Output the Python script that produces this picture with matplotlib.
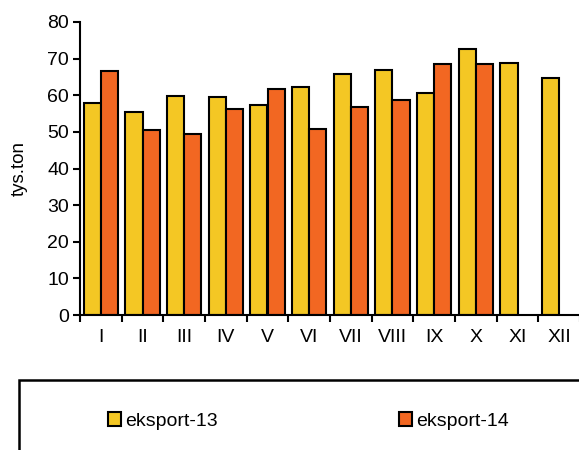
import numpy as np
import matplotlib
matplotlib.use("Agg")
import matplotlib.pyplot as plt
from matplotlib.patches import Rectangle

plt.rcParams['font.family'] = ['Liberation Sans', 'DejaVu Sans']

months = ["I", "II", "III", "IV", "V", "VI", "VII", "VIII", "IX", "X", "XI", "XII"]
eksport_13 = [58.0, 55.3, 59.7, 59.4, 57.3, 62.2, 65.8, 66.9, 60.7, 72.5, 68.8, 64.6]
eksport_14 = [66.6, 50.5, 49.5, 56.2, 61.6, 50.9, 56.9, 58.6, 68.4, 68.6, np.nan, np.nan]
labels = ["eksport-13", "eksport-14"]
yticks = [0, 10, 20, 30, 40, 50, 60, 70, 80]

W, H = 579, 450
fig = plt.figure(figsize=(W / 100, H / 100), dpi=100)
ax = fig.add_axes([80 / W, 1 - 315 / H, 500 / W, 293 / H])

x = np.arange(len(months))
w = 0.41
b1 = ax.bar(x - w / 2, eksport_13, w, color="#F4C724", edgecolor="black", linewidth=1.5, label=labels[0])
b2 = ax.bar(x + w / 2, eksport_14, w, color="#F26722", edgecolor="black", linewidth=1.5, label=labels[1])

ax.set_xlim(-0.5, len(months) - 0.5)
ax.set_ylim(0, 80)
ax.set_yticks(yticks)
ax.tick_params(axis='y', labelsize=14, width=1.5, length=5, direction='out', pad=3)

ax.set_xticks(np.arange(len(months) + 1) - 0.5)
ax.set_xticklabels([])
ax.set_xticks(x, minor=True)
ax.set_xticklabels(months, minor=True)
ax.tick_params(axis='x', which='major', width=1.5, length=5, direction='out')
ax.tick_params(axis='x', which='minor', length=0, labelsize=14, pad=10)

for s in ["top", "right"]:
    ax.spines[s].set_visible(False)
for s in ["left", "bottom"]:
    ax.spines[s].set_linewidth(1.5)

ax.set_ylabel("tys.ton", fontsize=13.5, labelpad=14)

# legend frame
fig.patches.append(Rectangle((19 / W, -0.05), 1.0, (H - 380) / H + 0.05,
                             transform=fig.transFigure, fill=False,
                             edgecolor="black", linewidth=1.8, zorder=0))

leg = fig.legend(handles=[b1, b2], labels=labels, loc="center left",
                 bbox_to_anchor=(98 / W, 1 - 421 / H), ncol=2, frameon=False,
                 fontsize=14, handlelength=0.7, handleheight=0.7,
                 handletextpad=0.2, columnspacing=9.3, borderpad=0)

fig.savefig("out.png", dpi=100)
